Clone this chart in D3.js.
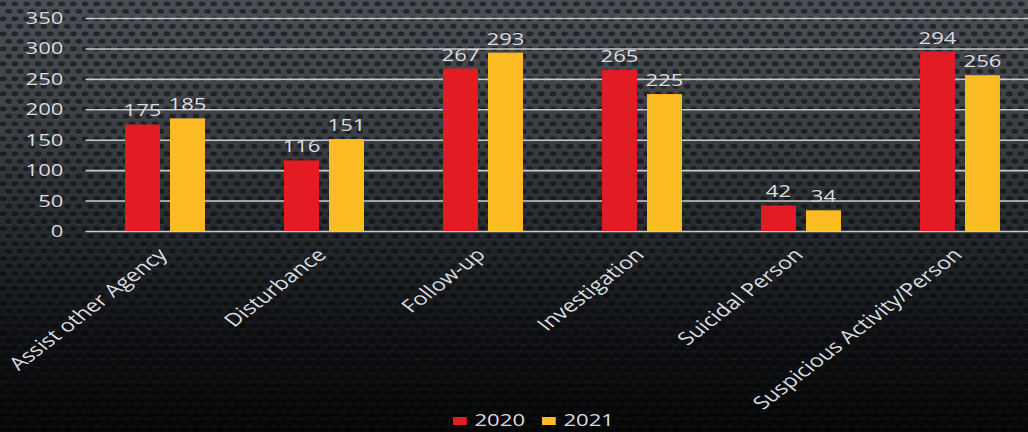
<!DOCTYPE html>
<html>
<head>
<meta charset="utf-8">
<script src="https://cdn.jsdelivr.net/npm/d3@7"></script>
<style>
  html, body { margin: 0; padding: 0; background: #000; }
  svg { display: block; }
</style>
</head>
<body>
<svg id="chart" width="1028" height="432"></svg>
<script>
const categories = ["Assist other Agency", "Disturbance", "Follow-up", "Investigation", "Suicidal Person", "Suspicious Activity/Person"];
const seriesNames = ["2020", "2021"];
const values2020 = [175, 116, 267, 265, 42, 294];
const values2021 = [185, 151, 293, 225, 34, 256];
const yTickValues = [0, 50, 100, 150, 200, 250, 300, 350];
const seriesColors = ["#e31b23", "#fbbb22"];

const WIDTH = 1028, HEIGHT = 432;
const SX = 1.3; // horizontal stretch of the reference image
const innerW = WIDTH / SX;

const svg = d3.select("#chart");
const defs = svg.append("defs");

// background gradient
const grad = defs.append("linearGradient").attr("id", "bg").attr("x1", 0).attr("y1", 0).attr("x2", 0).attr("y2", 1);
[[0, "#4a4f55"], [0.3, "#3b3f44"], [0.55, "#24282c"], [0.78, "#0f1114"], [1, "#050607"]]
  .forEach(([o, c]) => grad.append("stop").attr("offset", o).attr("stop-color", c));

// perforated texture
const pat = defs.append("pattern").attr("id", "holes").attr("patternUnits", "userSpaceOnUse")
  .attr("width", 11.7).attr("height", 15);
[[3, 4], [8.85, 11.5]].forEach(([cx, cy]) => {
  pat.append("ellipse").attr("cx", cx).attr("cy", cy + 1.2).attr("rx", 3.6).attr("ry", 2.4)
    .attr("fill", "#ffffff").attr("fill-opacity", 0.05);
  pat.append("ellipse").attr("cx", cx).attr("cy", cy).attr("rx", 3.6).attr("ry", 2.4)
    .attr("fill", "#000000").attr("fill-opacity", 0.55);
});

svg.append("rect").attr("width", WIDTH).attr("height", HEIGHT).attr("fill", "url(#bg)");
svg.append("rect").attr("width", WIDTH).attr("height", HEIGHT).attr("fill", "url(#holes)");

const g = svg.append("g").attr("transform", `scale(${SX},1)`);

const plotLeft = 85.5 / SX, plotRight = 1039.5 / SX;
const x0 = d3.scaleBand().domain(categories).range([plotLeft, plotRight])
  .paddingInner(0.497).paddingOuter(0.2485);
const x1 = d3.scaleBand().domain(seriesNames).range([0, x0.bandwidth()])
  .paddingInner(0.222).paddingOuter(0);
const y = d3.scaleLinear().domain([0, 350]).range([231, 18]);

const textColor = "#dadde0";
const fontFamily = "'Open Sans', 'DejaVu Sans', sans-serif";

// y axis with gridlines
const yAxis = g.append("g").attr("transform", `translate(${plotLeft},0)`)
  .call(d3.axisLeft(y).tickValues(yTickValues).tickSize(-(innerW - plotLeft + 20)).tickPadding(17));
yAxis.select(".domain").remove();
yAxis.selectAll(".tick line").attr("stroke", "#c8cacc").attr("stroke-width", 1.6);
yAxis.selectAll(".tick text").attr("fill", textColor).attr("font-family", fontFamily).attr("font-size", 17);

// bars
const data = categories.map((c, i) => ({ cat: c, vals: [values2020[i], values2021[i]] }));
const groups = g.append("g").selectAll("g").data(data).join("g")
  .attr("transform", d => `translate(${x0(d.cat)},0)`);

groups.selectAll("rect").data(d => d.vals.map((v, j) => ({ s: seriesNames[j], v, j })))
  .join("rect")
  .attr("x", d => x1(d.s))
  .attr("y", d => y(d.v))
  .attr("width", x1.bandwidth())
  .attr("height", d => y(0) - y(d.v))
  .attr("fill", d => seriesColors[d.j]);

groups.selectAll("text.val").data(d => d.vals.map((v, j) => ({ s: seriesNames[j], v, j })))
  .join("text").attr("class", "val")
  .attr("x", d => x1(d.s) + x1.bandwidth() / 2)
  .attr("y", d => y(d.v) - 8)
  .attr("text-anchor", "middle")
  .attr("fill", textColor).attr("font-family", fontFamily).attr("font-size", 17)
  .text(d => d.v);

// category labels
g.append("g").selectAll("text").data(categories).join("text")
  .attr("transform", d => `translate(${x0(d) + x0.bandwidth() / 2 + 2.7},256) rotate(-45)`)
  .attr("text-anchor", "end")
  .attr("fill", textColor).attr("font-family", fontFamily).attr("font-size", 18)
  .text(d => d);

// legend
const legendX = [348.5, 416.9];
const legend = g.append("g");
seriesNames.forEach((s, j) => {
  legend.append("rect").attr("x", legendX[j]).attr("y", 417).attr("width", 10.6).attr("height", 8)
    .attr("fill", seriesColors[j]);
  legend.append("text").attr("x", legendX[j] + 16.5).attr("y", 426.5)
    .attr("fill", textColor).attr("font-family", fontFamily).attr("font-size", 17)
    .text(s);
});
</script>
</body>
</html>
